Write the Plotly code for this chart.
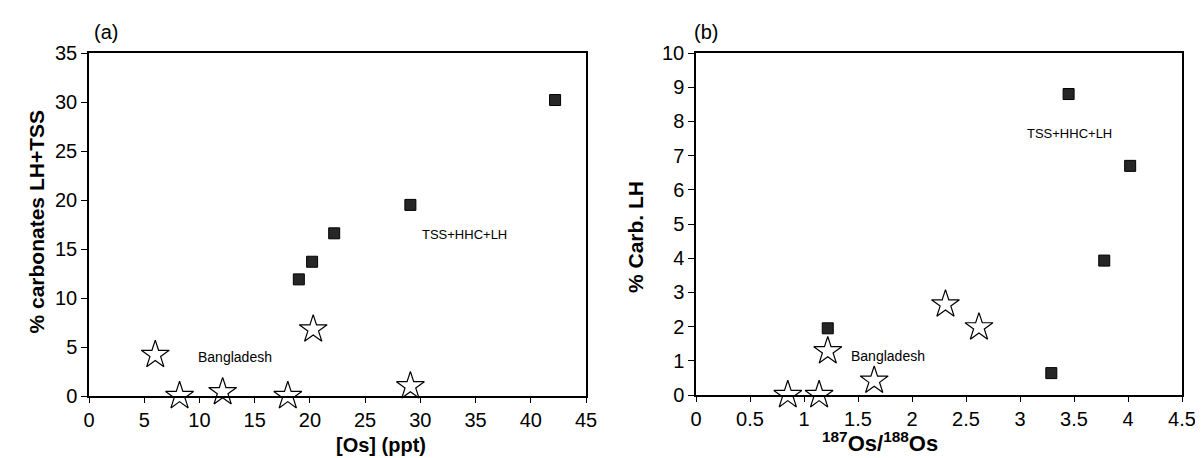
import plotly.graph_objects as go

# panel (a): [Os] vs % carbonates LH+TSS
a_sq_x = [42.2, 29.1, 22.2, 20.2, 19.0]
a_sq_y = [30.2, 19.5, 16.6, 13.7, 11.9]
a_star_x = [6.0, 8.2, 12.1, 18.0, 20.3, 29.1]
a_star_y = [4.2, 0.0, 0.4, 0.0, 6.8, 1.0]

# panel (b): 187Os/188Os vs % Carb. LH
b_sq_x = [3.45, 4.02, 3.78, 1.22, 3.29]
b_sq_y = [8.8, 6.7, 3.93, 1.95, 0.64]
b_star_x = [0.85, 1.14, 1.22, 1.65, 2.31, 2.62]
b_star_y = [0.0, 0.0, 1.28, 0.42, 2.65, 1.98]

# page body has an 8px margin, so work in page pixels and shift
OFF = 8
W, H = 1203 - OFF, 458 - OFF
L, T = 89 - OFF, 53 - OFF
R, B = 1203 - 1182, 458 - 396
pw = W - L - R
ph = H - T - B

def px(x):
    return (x - OFF - L) / pw

def py(y):
    return (H - B - (y - OFF)) / ph

font = "Liberation Sans, Arial, sans-serif"
sq = dict(symbol="square", size=11, color="#262626", line=dict(color="black", width=1))
st = dict(symbol="star", size=21, color="white", line=dict(color="black", width=1.2))

fig = go.Figure()
fig.add_trace(go.Scatter(x=a_sq_x, y=a_sq_y, mode="markers", marker=sq, xaxis="x", yaxis="y", cliponaxis=False))
fig.add_trace(go.Scatter(x=a_star_x, y=a_star_y, mode="markers", marker=st, xaxis="x", yaxis="y", cliponaxis=False))
fig.add_trace(go.Scatter(x=b_sq_x, y=b_sq_y, mode="markers", marker=sq, xaxis="x2", yaxis="y2", cliponaxis=False))
fig.add_trace(go.Scatter(x=b_star_x, y=b_star_y, mode="markers", marker=st, xaxis="x2", yaxis="y2", cliponaxis=False))

ax = dict(showgrid=False, zeroline=False, showline=True, linecolor="black", linewidth=1.5,
          mirror=True, ticks="outside", ticklen=6, tickcolor="black", tickwidth=1.2,
          automargin=False, tickfont=dict(size=20, color="black", family=font))
xax = dict(ax, ticklen=5)

fig.update_layout(
    template="none",
    width=W, height=H, showlegend=False,
    paper_bgcolor="white", plot_bgcolor="white",
    margin=dict(l=L, r=R, t=T, b=B),
    font=dict(family=font, color="black"),
    xaxis=dict(xax, domain=[0, px(586)], range=[0, 45], dtick=5, anchor="y"),
    yaxis=dict(ax, domain=[0, 1], range=[0, 35], dtick=5, anchor="x"),
    xaxis2=dict(xax, domain=[px(696), 1], range=[0, 4.5], dtick=0.5, anchor="y2"),
    yaxis2=dict(ax, domain=[py(395), py(53)], range=[0, 10], dtick=1, anchor="x2"),
)

ann = []
# panel letters
ann.append(dict(text="(a)", x=px(92), y=py(32), xanchor="left", yanchor="middle", font=dict(size=20)))
ann.append(dict(text="(b)", x=px(692), y=py(32), xanchor="left", yanchor="middle", font=dict(size=20)))
# axis titles
ann.append(dict(text="<b>% carbonates LH+TSS</b>", x=px(22), y=py(222), textangle=-90, font=dict(size=21)))
ann.append(dict(text="<b>% Carb. LH</b>", x=px(635), y=py(237), textangle=-90, font=dict(size=21)))
ann.append(dict(text="<b>[Os] (ppt)</b>", x=px(334), y=py(458), yanchor="bottom", font=dict(size=20)))
ann.append(dict(text="<b><sup>187</sup>Os/<sup>188</sup>Os</b>", x=px(940), y=py(458),
                yanchor="bottom", font=dict(size=22)))
for a in ann:
    a.update(xref="paper", yref="paper", showarrow=False)

# group labels in data coordinates
ann.append(dict(text="Bangladesh", x=13.2, y=4.0, xref="x", yref="y", showarrow=False, font=dict(size=14)))
ann.append(dict(text="TSS+HHC+LH", x=34.0, y=16.5, xref="x", yref="y", showarrow=False, font=dict(size=13)))
ann.append(dict(text="Bangladesh", x=1.78, y=1.14, xref="x2", yref="y2", showarrow=False, font=dict(size=14)))
ann.append(dict(text="TSS+HHC+LH", x=3.46, y=7.64, xref="x2", yref="y2", showarrow=False, font=dict(size=13)))

fig.update_layout(annotations=ann)
fig.write_html("out.html")
